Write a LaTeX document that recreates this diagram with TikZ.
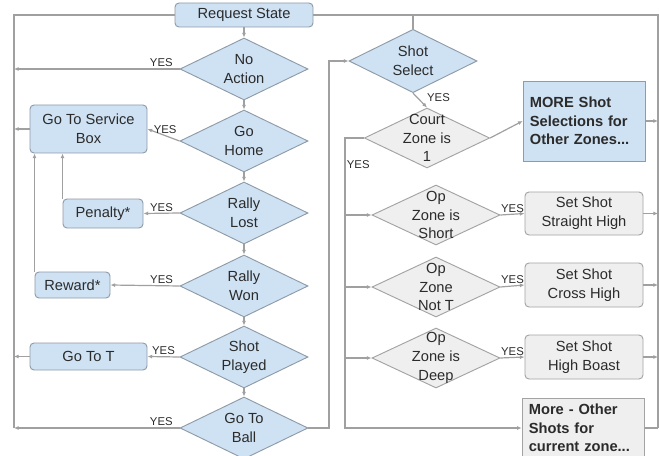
\documentclass[tikz,border=0pt]{standalone}
\usepackage{fontspec}
\setmainfont{Liberation Sans}
\usetikzlibrary{shapes.geometric,arrows.meta}
\definecolor{boxblue}{HTML}{CFE2F3}
\definecolor{boxgray}{HTML}{EFEFEF}
\definecolor{edgeblue}{HTML}{8E9BA8}
\definecolor{edgegray}{HTML}{A3A3A3}
\definecolor{wire}{HTML}{A0A0A0}
\definecolor{ink}{HTML}{2B2B2B}
\tikzset{
  base/.style={draw=edgeblue, fill=boxblue, line width=0.7pt, text=ink,
    font=\fontsize{11}{14}\selectfont, inner sep=0pt, align=center},
  bluebox/.style={base, rounded corners=3pt},
  graybox/.style={base, rounded corners=3pt, draw=edgegray, fill=boxgray},
  notebox/.style={base, font=\fontsize{11}{14}\selectfont\bfseries, align=left,
    inner xsep=5pt, text width=82pt},
  bluedia/.style={base, diamond, minimum width=96pt, minimum height=46.5pt},
  graydia/.style={bluedia, draw=edgegray, fill=boxgray, minimum height=45pt},
  dtext/.style={text=ink, font=\fontsize{11}{14}\selectfont, align=center, inner sep=0pt},
  wireline/.style={draw=wire, line width=0.9pt},
  arr/.style={wireline, -{Latex[length=3.5pt,width=3pt]}},
  yes/.style={font=\fontsize{8.5}{10}\selectfont, text=ink, inner sep=1pt},
}
\begin{document}
\begin{tikzpicture}[x=0.75pt,y=-0.75pt]
\clip (0,0) rectangle (660,456);
\fill[white] (0,0) rectangle (660,456);

% helper coordinates for the bus lines
\coordinate (tl) at (14,15);
\coordinate (bl) at (14,428);
\coordinate (tr) at (658,15);
\coordinate (br) at (658,428);
\coordinate (midx) at (329,0);
\coordinate (lane) at (345,0);

% left column: state checks
\node[bluebox, minimum width=103.5pt, minimum height=18pt] (req) at (244,15) {Request State};
\node[bluedia] (noact) at (244,69) {};
\node[dtext] (noactT) at (noact) {No\\Action};
\node[bluedia] (gohome) at (244,141) {};
\node[dtext] (gohomeT) at (gohome) {Go\\Home};
\node[bluedia] (rlost) at (244,213) {};
\node[dtext] (rlostT) at (rlost) {Rally\\Lost};
\node[bluedia] (rwon) at (244,286) {};
\node[dtext] (rwonT) at (rwon) {Rally\\Won};
\node[bluedia] (splayed) at (244,357) {};
\node[dtext] (splayedT) at (splayed) {Shot\\Played};
\node[bluedia] (goball) at (244,428) {};
\node[dtext] (goballT) at (goball) {Go To\\Ball};

% left column: actions
\node[bluebox, minimum width=87.75pt, minimum height=36pt] (svc) at (88.5,129) {Go To Service\\Box};
\node[bluebox, minimum width=60pt, minimum height=21.75pt] (penalty) at (103,213.5) {Penalty*};
\node[bluebox, minimum width=56.25pt, minimum height=19.5pt] (reward) at (72.5,285) {Reward*};
\node[bluebox, minimum width=87.75pt, minimum height=20.25pt] (gotot) at (88.5,356.5) {Go To T};

% right column: shot selection
\node[bluedia, minimum height=47.5pt] (shotsel) at (413,61) {};
\node[dtext] (shotselT) at (shotsel) {Shot\\Select};
\node[graydia, minimum width=94pt] (court) at (427,138) {};
\node[dtext] (courtT) at (court) {Court\\Zone is\\1};
\node[graydia] (opshort) at (436,215) {};
\node[dtext] (opshortT) at (opshort) {Op\\Zone is\\Short};
\node[graydia] (opnott) at (436,287) {};
\node[dtext] (opnottT) at (opnott) {Op\\Zone\\Not T};
\node[graydia] (opdeep) at (436,358) {};
\node[dtext] (opdeepT) at (opdeep) {Op\\Zone is\\Deep};

\node[notebox, minimum height=60pt] (more1) at (584.5,121) {MORE Shot\\Selections for\\Other Zones...};
\node[graybox, minimum width=88.5pt, minimum height=32.25pt] (straight) at (584,213.5) {Set Shot\\Straight High};
\node[graybox, minimum width=88.5pt, minimum height=33pt] (cross) at (584,285) {Set Shot\\Cross High};
\node[graybox, minimum width=88.5pt, minimum height=33pt] (boast) at (584,357) {Set Shot\\High Boast};
\node[notebox, draw=edgegray, fill=boxgray, minimum height=45pt] (more2) at (583.5,428) {More - Other\\Shots for\\current zone...};

% return buses
\draw[wireline] (bl) -- (tl) -- (req.west);
\draw[wireline] (req.east) -- (tr) -- (br);
\draw[wireline] (shotsel.north |- req.east) -- (shotsel.north);

% main chain
\draw[arr] (req.south) -- (noact.north);
\draw[arr] (noact.south) -- (gohome.north);
\draw[arr] (gohome.south) -- (rlost.north);
\draw[arr] (rlost.south) -- (rwon.north);
\draw[arr] (rwon.south) -- (splayed.north);
\draw[arr] (splayed.south) -- (goball.north);

% YES branches on the left
\draw[arr] (noact.west) -- node[yes, above, pos=0.11] (y1) {YES} (noact.west -| tl);
\draw[arr] (gohome.west) -- node[yes, above, pos=0.45] (y2) {YES} (svc.east);
\draw[arr] (rlost.west) -- node[yes, above, pos=0.5] (y3) {YES} (penalty.east);
\draw[arr] (rwon.west) -- node[yes, above, pos=0.26] (y4) {YES} (reward.east);
\draw[arr] (splayed.west) -- node[yes, above, pos=0.5] (y5) {YES} (gotot.east);
\draw[arr] (goball.west) -- node[yes, above, pos=0.11] (y6) {YES} (goball.west -| tl);

\draw[arr] (svc.west) -- (svc.west -| tl);
\draw[arr] (gotot.west) -- (gotot.west -| tl);
\draw[arr] (penalty.north west) -- (penalty.north west |- svc.south);
\draw[arr] (reward.north west) -- (reward.north west |- svc.south);

% no more checks: go to shot selection
\draw[arr] (goball.east) -- (goball.east -| midx) -- (shotsel.west -| midx) -- (shotsel.west);

% shot selection branches
\draw[arr] (shotsel.south) -- node[yes, anchor=west, pos=0.3, xshift=6pt] (y7) {YES} (court.north);
\draw[arr] (court.east) -- (more1.west);
\draw[arr] (court.west) -- (court.west -| lane) -- node[yes, right, pos=0.093] (y8) {YES} (more2.west -| lane) -- (more2.west);
\draw[arr] (opshort.west -| lane) -- (opshort.west);
\draw[arr] (opnott.west -| lane) -- (opnott.west);
\draw[arr] (opdeep.west -| lane) -- (opdeep.west);
\draw[arr] (opshort.east) -- node[yes, above, pos=0.5] (y9) {YES} (straight.west);
\draw[arr] (opnott.east) -- node[yes, above, pos=0.5] (y10) {YES} (cross.west);
\draw[arr] (opdeep.east) -- node[yes, above, pos=0.5] (y11) {YES} (boast.west);

% results back to the right bus
\draw[arr] (more1.east) -- (more1.east -| tr);
\draw[arr] (straight.east) -- (straight.east -| tr);
\draw[arr] (cross.east) -- (cross.east -| tr);
\draw[arr] (boast.east) -- (boast.east -| tr);
\draw[wireline] (more2.east) -- (more2.east -| tr);
\end{tikzpicture}
\end{document}
